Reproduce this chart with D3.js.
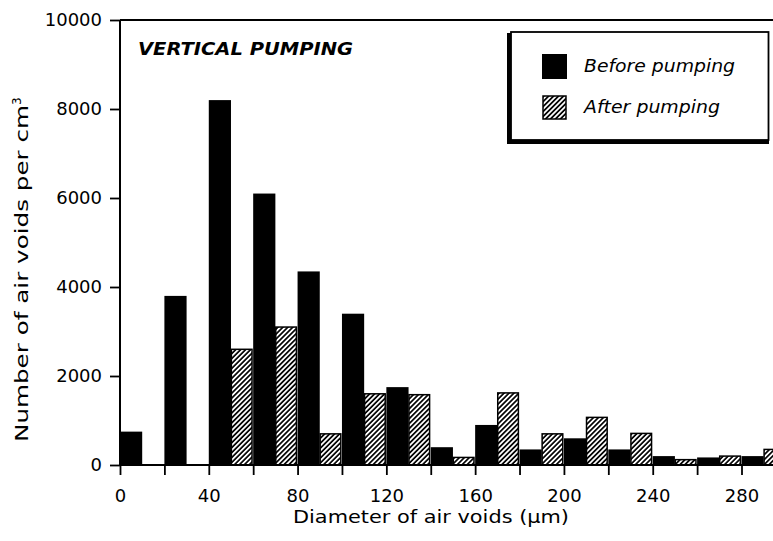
<!DOCTYPE html>
<html>
<head>
<meta charset="utf-8">
<script src="https://cdn.jsdelivr.net/npm/d3@7"></script>
<style>
  html, body { margin: 0; padding: 0; background: #fff; }
  svg { display: block; }
  text { font-family: "DejaVu Sans", "Liberation Sans", sans-serif; fill: #000; }
</style>
</head>
<body>
<div id="chart"></div>
<script>
// ---- data ----
const binStarts = [0, 20, 40, 60, 80, 100, 120, 140, 160, 180, 200, 220, 240, 260, 280];
const beforePumping = [750, 3800, 8200, 6100, 4350, 3400, 1750, 400, 900, 350, 600, 350, 200, 170, 200];
const afterPumping  = [0, 0, 2600, 3100, 700, 1600, 1580, 170, 1620, 700, 1070, 710, 120, 200, 350];
const xTickValues = [0, 20, 40, 60, 80, 100, 120, 140, 160, 180, 200, 220, 240, 260, 280, 300];
const xTickLabels = [0, 40, 80, 120, 160, 200, 240, 280];
const yTickValues = [0, 2000, 4000, 6000, 8000, 10000];
const seriesNames = ["Before pumping", "After pumping"];
const chartTitle = "VERTICAL PUMPING";
const xTitle = "Diameter of air voids (\u00B5m)";
const yTitle = "Number of air voids per cm";
const yTitleSup = "3";

// ---- layout ----
const W = 773, H = 541;
const svg = d3.select("#chart").append("svg").attr("width", W).attr("height", H);

const x = d3.scaleLinear().domain([0, 280]).range([120, 741.5]);
const y = d3.scaleLinear().domain([0, 10000]).range([465, 20]);

const defs = svg.append("defs");
const pat = defs.append("pattern")
  .attr("id", "hatch").attr("patternUnits", "userSpaceOnUse")
  .attr("width", 3.5).attr("height", 10)
  .attr("patternTransform", "rotate(45)");
pat.append("rect").attr("width", 3.5).attr("height", 10).attr("fill", "#fff");
pat.append("line").attr("x1", 0.9).attr("y1", 0).attr("x2", 0.9).attr("y2", 10)
  .attr("stroke", "#000").attr("stroke-width", 1.7);

// bars
const binW = 10; // half bin in data units
svg.append("g").selectAll("rect").data(binStarts).join("rect")
  .attr("x", (d) => x(d))
  .attr("y", (d, i) => y(beforePumping[i]))
  .attr("width", x(binW) - x(0))
  .attr("height", (d, i) => y(0) - y(beforePumping[i]))
  .attr("fill", "#000");

svg.append("g").selectAll("rect").data(binStarts).join("rect")
  .attr("x", (d) => x(d + binW) + 0.4)
  .attr("y", (d, i) => y(afterPumping[i]))
  .attr("width", x(9.3) - x(0))
  .attr("height", (d, i) => y(0) - y(afterPumping[i]))
  .attr("fill", "url(#hatch)")
  .attr("stroke", "#000").attr("stroke-width", 1.5);

// axes
const xAxis = d3.axisBottom(x)
  .tickValues(xTickValues)
  .tickSize(10).tickPadding(14)
  .tickFormat((d) => xTickLabels.includes(d) ? d : "");
const gx = svg.append("g").attr("transform", `translate(0,${y(0)})`).call(xAxis);
gx.select(".domain").attr("d", `M${x(0)},0H${W + 20}`).attr("stroke-width", 2);
gx.selectAll(".tick line").attr("stroke-width", 1.8);
gx.selectAll(".tick text").attr("font-size", 18).attr("font-family", "DejaVu Sans");

const yAxis = d3.axisLeft(y).tickValues(yTickValues).tickSize(10).tickPadding(8).tickFormat(d3.format("d"));
const gy = svg.append("g").attr("transform", `translate(${x(0)},0)`).call(yAxis);
gy.select(".domain").attr("d", `M0,${y(0)}V${y(10000)}`).attr("stroke-width", 2);
gy.selectAll(".tick line").attr("stroke-width", 1.8);
gy.selectAll(".tick text").attr("font-size", 18).attr("font-family", "DejaVu Sans");

// top frame line
svg.append("line").attr("x1", x(0)).attr("x2", W + 5).attr("y1", y(10000)).attr("y2", y(10000))
  .attr("stroke", "#000").attr("stroke-width", 2);

// title inside
svg.append("text").attr("x", 138).attr("y", 55)
  .attr("font-size", 17).attr("font-weight", "bold").attr("font-style", "italic")
  .attr("textLength", 215).attr("lengthAdjust", "spacingAndGlyphs")
  .text(chartTitle);

// axis titles
svg.append("text").attr("x", 293).attr("y", 523)
  .attr("font-size", 17.5)
  .attr("textLength", 276).attr("lengthAdjust", "spacingAndGlyphs")
  .text(xTitle);

svg.append("text")
  .attr("transform", "translate(28,442) rotate(-90)")
  .attr("font-size", 17.5)
  .attr("textLength", 337).attr("lengthAdjust", "spacingAndGlyphs")
  .text(yTitle);
svg.append("text")
  .attr("transform", "translate(21,105) rotate(-90)")
  .attr("font-size", 12)
  .text(yTitleSup);

// legend
const lg = svg.append("g");
lg.append("rect").attr("x", 507).attr("y", 33).attr("width", 262).attr("height", 111).attr("fill", "#000");
lg.append("rect").attr("x", 511).attr("y", 32).attr("width", 257.5).attr("height", 108)
  .attr("fill", "#fff").attr("stroke", "#000").attr("stroke-width", 1.8);
lg.append("rect").attr("x", 542).attr("y", 54).attr("width", 25).attr("height", 25).attr("fill", "#000");
lg.append("rect").attr("x", 543).attr("y", 96).attr("width", 23).attr("height", 23)
  .attr("fill", "url(#hatch)").attr("stroke", "#000").attr("stroke-width", 1.5);
lg.append("text").attr("x", 584).attr("y", 72).attr("font-size", 17.5).attr("font-style", "italic")
  .attr("textLength", 151).attr("lengthAdjust", "spacingAndGlyphs").text(seriesNames[0]);
lg.append("text").attr("x", 584).attr("y", 113).attr("font-size", 17.5).attr("font-style", "italic")
  .attr("textLength", 136).attr("lengthAdjust", "spacingAndGlyphs").text(seriesNames[1]);
</script>
</body>
</html>
